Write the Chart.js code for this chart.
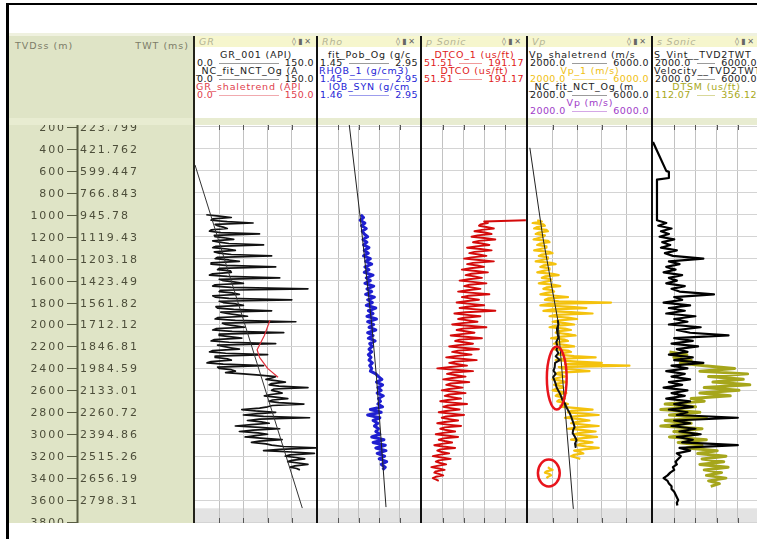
<!DOCTYPE html>
<html><head><meta charset="utf-8">
<script src="https://cdn.jsdelivr.net/npm/chart.js@4.4.0/dist/chart.umd.min.js"></script>
<style>
html,body{margin:0;padding:0}
body{width:757px;height:539px;overflow:hidden;background:#fff;position:relative;font-family:"DejaVu Sans",sans-serif}
.a{position:absolute}
.frame{left:6px;top:3px;width:760px;height:540px;border-left:3px solid #000;border-top:2px solid #000;box-sizing:border-box}
.topband{left:9px;top:33px;width:750px;height:3px;background:#eff1df}
.hdr{top:36px;height:82px;background:#fff;overflow:hidden}
.ttl{height:11px;background:#f6f6cd;font:italic 9.5px "DejaVu Sans",sans-serif;letter-spacing:0.8px;color:#b4b494;padding-left:4px;line-height:11px;position:relative;white-space:nowrap}
.ttl .ic{position:absolute;right:3px;top:0;font-style:normal;color:#666;font-size:8px;letter-spacing:2px}
.lgw{margin-top:4px}
.lg{font:9.5px "DejaVu Sans",sans-serif;letter-spacing:0.8px;line-height:8px;height:8px;white-space:nowrap;overflow-x:clip;overflow-y:visible;padding-left:1px}
.c{display:flex;justify-content:center}
.rg{display:flex;justify-content:space-between;align-items:center;padding:0 2px 0 2px;letter-spacing:0.4px}
.rg i{flex:1;height:1px;background:currentColor;margin:0 6px;opacity:.45}
.strip{left:9px;top:118px;width:750px;height:7px;background:#e8ecd1}
.sep{top:36px;height:487px;width:2px;background:#111}
.dhdr{left:9px;top:36px;width:184px;height:82px;background:#dfe4c6;color:#7c7c68;font:9.5px "DejaVu Sans",sans-serif;letter-spacing:1px}
canvas{position:absolute;top:125px}
</style></head><body>
<div class="a frame"></div>
<div class="a topband"></div>

<div class="a dhdr"><span class="a" style="left:6px;top:4px">TVDss (m)</span><span class="a" style="right:4px;top:4px">TWT (ms)</span></div>

<div class="a hdr" style="left:195px;width:121px">
  <div class="ttl">GR<span class="ic">◊▮✕</span></div>
  <div class="lgw">
    <div class="lg c" style="color:#222">GR_001 (API)</div>
    <div class="lg rg" style="color:#222"><span>0.0</span><i></i><span>150.0</span></div>
    <div class="lg" style="color:#222">_NC_fit_NCT_Og (A</div>
    <div class="lg rg" style="color:#222"><span>0.0</span><i></i><span>150.0</span></div>
    <div class="lg" style="color:#e0404c">GR_shaletrend (API</div>
    <div class="lg rg" style="color:#e0404c"><span>0.0</span><i></i><span>150.0</span></div>
  </div>
</div>
<div class="a hdr" style="left:318px;width:102px">
  <div class="ttl">Rho<span class="ic">◊▮✕</span></div>
  <div class="lgw">
    <div class="lg c" style="color:#222">fit_Pob_Og (g/c</div>
    <div class="lg rg" style="color:#222"><span>1.45</span><i></i><span>2.95</span></div>
    <div class="lg" style="color:#2626d6">RHOB_1 (g/cm3)</div>
    <div class="lg rg" style="color:#2626d6"><span>1.45</span><i></i><span>2.95</span></div>
    <div class="lg c" style="color:#2626d6">IOB_SYN (g/cm</div>
    <div class="lg rg" style="color:#2626d6"><span>1.46</span><i></i><span>2.95</span></div>
  </div>
</div>
<div class="a hdr" style="left:422px;width:104px">
  <div class="ttl">p Sonic<span class="ic">◊▮✕</span></div>
  <div class="lgw">
    <div class="lg c" style="color:#e02020">DTCO_1 (us/ft)</div>
    <div class="lg rg" style="color:#e02020"><span>51.51</span><i></i><span>191.17</span></div>
    <div class="lg c" style="color:#e02020">DTCO (us/ft)</div>
    <div class="lg rg" style="color:#e02020"><span>51.51</span><i></i><span>191.17</span></div>
  </div>
</div>
<div class="a hdr" style="left:528px;width:123px">
  <div class="ttl">Vp<span class="ic">◊▮✕</span></div>
  <div class="lgw">
    <div class="lg" style="color:#222">Vp_shaletrend (m/s</div>
    <div class="lg rg" style="color:#222"><span>2000.0</span><i></i><span>6000.0</span></div>
    <div class="lg c" style="color:#f0c010">Vp_1 (m/s)</div>
    <div class="lg rg" style="color:#f0c010"><span>2000.0</span><i></i><span>6000.0</span></div>
    <div class="lg" style="color:#222">_NC_fit_NCT_Og (m</div>
    <div class="lg rg" style="color:#222"><span>2000.0</span><i></i><span>6000.0</span></div>
    <div class="lg c" style="color:#a03cc8">Vp (m/s)</div>
    <div class="lg rg" style="color:#a03cc8"><span>2000.0</span><i></i><span>6000.0</span></div>
  </div>
</div>
<div class="a hdr" style="left:653px;width:106px">
  <div class="ttl">s Sonic<span class="ic">◊▮✕</span></div>
  <div class="lgw">
    <div class="lg" style="color:#222">S_Vint__TVD2TWT</div>
    <div class="lg rg" style="color:#222"><span>2000.0</span><i></i><span>6000.0</span></div>
    <div class="lg" style="color:#222">Velocity__TVD2TWT</div>
    <div class="lg rg" style="color:#222"><span>2000.0</span><i></i><span>6000.0</span></div>
    <div class="lg c" style="color:#a8a820">DTSM (us/ft)</div>
    <div class="lg rg" style="color:#a8a820"><span>112.07</span><i></i><span>356.12</span></div>
  </div>
</div>

<div class="a strip"></div>

<canvas id="cDepth" width="184" height="398" style="left:9px;width:184px;height:398px"></canvas>
<canvas id="cGR" width="121" height="398" style="left:195px;width:121px;height:398px"></canvas>
<canvas id="cRho" width="102" height="398" style="left:318px;width:102px;height:398px"></canvas>
<canvas id="cPS" width="104" height="398" style="left:422px;width:104px;height:398px"></canvas>
<canvas id="cVp" width="123" height="398" style="left:528px;width:123px;height:398px"></canvas>
<canvas id="cSS" width="106" height="398" style="left:653px;width:106px;height:398px"></canvas>

<div class="a sep" style="left:193px;background:#23231a"></div>
<div class="a sep" style="left:316px"></div>
<div class="a sep" style="left:420px"></div>
<div class="a sep" style="left:526px"></div>
<div class="a sep" style="left:651px"></div>

<script>
// ---------- depth axis ----------
const depthTicks=[200,400,600,800,1000,1200,1400,1600,1800,2000,2200,2400,2600,2800,3000,3200,3400,3600,3800];
const twtLabels=["223.799","421.762","599.447","766.843","945.78","1119.43","1203.18","1423.49","1561.82","1712.12","1846.81","1984.59","2133.01","2260.72","2394.86","2515.26","2656.19","2798.31"];
const DEPTH_MIN=182, DEPTH_MAX=3809, GRAY_BAND_TOP=3675;

// ---------- fine log depth samples (m), 8 per 100 m ----------
const fineDepth=[
1000,1012,1025,1038,1050,1062,1075,1088,
1100,1112,1125,1138,1150,1162,1175,1188,
1200,1212,1225,1238,1250,1262,1275,1288,
1300,1312,1325,1338,1350,1362,1375,1388,
1400,1412,1425,1438,1450,1462,1475,1488,
1500,1512,1525,1538,1550,1562,1575,1588,
1600,1612,1625,1638,1650,1662,1675,1688,
1700,1712,1725,1738,1750,1762,1775,1788,
1800,1812,1825,1838,1850,1862,1875,1888,
1900,1912,1925,1938,1950,1962,1975,1988,
2000,2012,2025,2038,2050,2062,2075,2088,
2100,2112,2125,2138,2150,2162,2175,2188,
2200,2212,2225,2238,2250,2262,2275,2288,
2300,2312,2325,2338,2350,2362,2375,2388,
2400,2412,2425,2438,2450,2462,2475,2488,
2500,2512,2525,2538,2550,2562,2575,2588,
2600,2612,2625,2638,2650,2662,2675,2688,
2700,2712,2725,2738,2750,2762,2775,2788,
2800,2812,2825,2838,2850,2862,2875,2888,
2900,2912,2925,2938,2950,2962,2975,2988,
3000,3012,3025,3038,3050,3062,3075,3088,
3100,3112,3125,3138,3150,3162,3175,3188,
3200,3212,3225,3238,3250,3262,3275,3288,
3300,3312,3325,3338,3350,3362,3375,3388,
3400,3412,3425];

// GR track (API 0-150)
const grValues=[
14,30,45,22,20,40,72,25,
28,35,40,20,18,32,80,24,
25,38,48,22,30,42,85,26,
22,40,50,24,30,45,95,28,
25,42,55,20,20,38,100,30,
28,44,45,22,18,40,105,30,
35,48,60,25,22,45,140,32,
30,46,55,22,25,42,120,30,
35,50,60,26,28,48,95,32,
40,52,65,28,25,50,125,34,
38,50,62,26,22,46,110,30,
30,45,58,24,20,42,100,28,
35,44,55,22,18,38,90,26,
25,40,45,20,15,35,85,28,
30,45,50,38,60,80,100,95,
88,100,112,95,92,104,140,98,
95,102,108,94,86,100,115,96,
92,104,135,96,90,80,58,75,
100,78,60,85,142,80,65,82,
92,70,50,80,105,72,55,78,
90,75,62,85,108,80,70,88,
95,110,150,105,85,120,148,118,
112,125,136,120,115,128,140,124,
118,126,130,null,null,null,null,null,
null,null,null];
const grTrendDepth=[546,3673];
const grTrendValues=[0,133];
const grShaleDepth=[1960,2100,2230,2300,2400,2480];
const grShaleValues=[93,86,77,80,90,103];

// p Sonic track (us/ft 51.51-191.17)
const dtcoValues=[
null,null,null,null,191,135,140,130,
128,138,148,132,122,136,145,126,
118,135,150,128,120,132,142,124,
112,130,145,122,115,128,138,118,
108,128,148,120,112,126,135,116,
105,124,140,118,110,122,132,114,
102,120,138,115,108,118,130,112,
100,120,142,114,105,116,128,110,
98,116,135,112,102,125,150,110,
95,112,130,108,100,114,126,105,
92,114,138,106,98,110,122,104,
90,110,132,102,96,108,120,100,
88,106,128,100,92,104,118,96,
84,104,125,96,88,100,112,90,
72,96,120,92,85,98,110,92,
80,96,115,90,84,94,106,88,
78,94,110,88,82,92,104,86,
76,92,112,86,80,90,102,84,
74,90,108,84,78,88,100,82,
72,86,104,82,76,84,96,80,
70,84,100,80,74,82,92,78,
68,80,96,76,72,78,88,74,
66,78,90,74,70,76,84,72,
64,74,82,70,68,74,80,70,
66,70,74];

// Vp track (m/s 2000-6000)
const vpValues=[
null,null,null,null,2300,2450,2150,2500,
2550,2300,2200,2600,2650,2350,2250,2550,
2500,2350,2180,2650,2700,2400,2300,2600,
2600,2400,2200,2700,2800,2450,2350,2650,
2650,2450,2250,2750,2900,2500,2400,2700,
2700,2500,2300,2800,3000,2550,2450,2750,
2750,2550,2350,2850,3050,2600,2500,2800,
2850,2600,2400,2900,3300,2650,2550,3000,
4700,2700,2400,3300,3900,2800,2500,3400,
4100,2900,2700,3300,3600,3000,2800,3200,
3500,2900,2700,3200,3400,2950,2900,3300,
3550,3000,2750,3200,3300,2950,2850,3250,
3500,3000,2800,3300,3400,3100,3000,3500,
4200,3100,2900,3600,4400,3200,5300,3000,
3100,3500,4000,3000,2900,3100,3200,2950,
2800,3050,3250,2950,2850,3100,3150,2900,
2800,3050,3250,2950,2900,3100,3200,3000,
2950,3150,3300,3050,3100,3600,4100,3400,
3300,3800,4300,3500,3200,3700,4000,3600,
3400,3800,4300,3600,3300,3800,4200,3700,
3500,3900,4250,3700,3400,3800,4100,3700,
3600,3900,4300,3800,3500,3700,3800,3500,
3400,3550,3700,null,null,null,null,null,
2650,2700,2800,2600,2550,2700,2750,2650,
2600,null,null];
const vpTrendDepth=[390,1200,1960,3600,3680];
const vpTrendValues=[2060,2480,2970,3450,3475];
const vpNctDepth=[1960,2000,2040,2080,2120,2160,2200,2233,2260,2290,2324,2350,2388,2420,2450,2479,2510,2540,2570,2600,2630,2661,2690,2720,2752,2780,2810,2843,2870,2900,2934,2960,2990,3020,3053,3085,3117];
const vpNctValues=[2968,2990,2940,2958,2990,2920,2960,2925,2990,2900,3030,2880,2870,2830,2900,2817,2860,2900,2925,2980,3040,3086,3120,3200,3247,3300,3360,3408,3440,3480,3516,3470,3452,3520,3580,3530,3548];
// highlighted zones (red ellipses): centre depth, centre Vp, half-height (m), half-width (m/s)
const ellDepth=[2488,3353];
const ellVp=[2935,2677];
const ellHalfDepth=[287,123];
const ellHalfVp=[322,355];

// ---------- Rho log depth samples (m) ----------
const logDepth=[
1000,1025,1050,1075,1100,1125,1150,1175,1200,1225,1250,1275,
1300,1325,1350,1375,1400,1425,1450,1475,1500,1525,1550,1575,
1600,1625,1650,1675,1700,1725,1750,1775,1800,1825,1850,1875,
1900,1925,1950,1975,2000,2025,2050,2075,2100,2125,2150,2175,
2200,2225,2250,2275,2300,2325,2350,2375,2400,2425,2450,2475,
2500,2525,2550,2575,2600,2625,2650,2675,2700,2725,2750,2775,
2800,2825,2850,2875,2900,2925,2950,2975,3000,3025,3050,3075,
3100,3125,3150,3175,3200,3225,3250,3275,3300,3325];
// Rho track (g/cm3 1.45-2.95)
const rhoValues=[
2.08,2.12,2.07,2.14,2.09,2.16,2.10,2.13,2.18,2.11,2.17,2.12,
2.20,2.13,2.19,2.12,2.22,2.15,2.24,2.14,2.20,2.13,2.26,2.16,
2.22,2.14,2.27,2.17,2.24,2.15,2.28,2.18,2.25,2.16,2.30,2.19,
2.26,2.17,2.31,2.18,2.27,2.20,2.30,2.18,2.26,2.19,2.29,2.21,
2.25,2.20,2.24,2.19,2.23,2.20,2.25,2.21,2.24,2.22,2.30,2.34,
2.39,2.31,2.40,2.33,2.38,2.32,2.41,2.34,2.37,2.33,2.40,2.22,
2.38,2.18,2.36,2.26,2.33,2.28,2.34,2.30,2.36,2.24,2.42,2.26,
2.44,2.30,2.45,2.32,2.43,2.35,2.46,2.38,2.44,2.40];
const rhoTrendDepth=[182,1020,2000,2480,3664];
const rhoTrendValues=[1.91,2.07,2.24,2.31,2.45];

// s Sonic track: Velocity (m/s 2000-6000) and DTSM (us/ft 112.07-356.12)
const velDepth=[337,600,610,665,680,1050,
1075,1100,1125,1150,1175,1200,1225,1250,1275,1300,1325,1350,
1375,1400,1425,1450,1475,1500,1525,1550,1575,1600,1625,1650,
1675,1700,1725,1750,1775,1800,1825,1850,1875,1900,1925,1950,
1975,2000,2025,2050,2075,2100,2125,2150,2175,2200,2225,2250,
2275,2300,2325,2350,2375,2400,2425,2450,2475,2500,2525,2550,
2575,2600,2625,2650,2675,2700,2725,2750,2775,2800,2825,2850,
2875,2900,2925,2950,2975,3000,3025,3050,3075,3100,3125,3150,
3175,3200,3225,3250,3275,3300,3325,3350,3375,3400,3425,3450,
3475,3500,3525,3550,3575,3600,3625,3650];
const velValues=[2000,2500,2600,2600,2150,2150,
2500,2200,2700,2300,2600,2250,2800,2350,2650,2300,2900,2450,
2750,3900,2600,3000,2500,2850,2400,3100,2600,2900,2500,3200,
2700,3000,4300,2800,3100,2400,3400,2600,3200,2500,3600,2800,
3300,2600,3800,2900,3400,4850,2800,3500,2700,3700,2900,3300,
2600,3500,2800,3900,2700,3300,2500,3200,2700,3400,2600,3100,
2400,3300,2700,3200,2500,3400,2800,3500,2600,3300,2900,5200,
2800,3400,2700,3600,3000,3800,2900,3500,3100,5200,3000,3400,
2900,3050,2950,2850,2900,2750,2800,2650,2550,2400,2550,2600,
2700,2700,2800,2850,2900,2950,2900,2920];
const dtsmDepth=[2250,2275,2300,2325,2350,2375,2400,2425,2450,2475,
2500,2525,2550,2575,2600,2625,2650,2675,2700,2725,
2750,2775,2800,2825,2850,2875,2900,2925,2950,2975,
3000,3025,3050,3075,3100,3125,3150,3175,3200,3225,
3250,3275,3300,3325,3350,3375,3400,3425,3450,3475];
const dtsmValues=[150,190,160,200,175,230,300,220,330,240,
320,250,335,230,310,220,290,200,230,140,
210,130,220,150,235,140,200,130,225,160,
215,150,235,170,225,190,260,215,280,225,
275,220,285,230,270,235,280,240,265,245];

// ---------- helpers ----------
const pts=(ds,vs)=>ds.map((d,i)=>({x:vs[i],y:d}));
function line(ds,vs,color,w){return {data:pts(ds,vs),borderColor:color,borderWidth:w,showLine:true,pointRadius:0,spanGaps:false,fill:false,tension:0,borderJoinStyle:'round'};}

const bgPlugin={id:'bg',beforeDraw(c){const {ctx,chartArea:a,scales:{y}}=c;ctx.save();ctx.fillStyle='#fff';ctx.fillRect(a.left,a.top,a.width,a.height);
  const t=y.getPixelForValue(GRAY_BAND_TOP);ctx.fillStyle='#e3e3e3';ctx.fillRect(a.left,t,a.width,a.bottom-t);ctx.restore();}};
const edgeTicks={id:'edgeTicks',afterDatasetsDraw(c){const {ctx,chartArea:a,scales:{x}}=c;ctx.save();ctx.strokeStyle='#555';ctx.lineWidth=1;
  x.ticks.forEach(t=>{const px=Math.round(x.getPixelForValue(t.value))+0.5;ctx.beginPath();ctx.moveTo(px,a.top);ctx.lineTo(px,a.top+5);ctx.moveTo(px,a.bottom-5);ctx.lineTo(px,a.bottom);ctx.stroke();});ctx.restore();}};

function track(id,xmin,xmax,datasets,extra,extraScales){
  const scales={
    x:{type:'linear',min:xmin,max:xmax,
      afterFit:s=>{s.height=0;},
      afterBuildTicks:s=>{const st=(xmax-xmin)/5;s.ticks=[1,2,3,4].map(k=>({value:xmin+k*st}));},
      ticks:{display:false},grid:{color:'#c2c2c2',drawTicks:false,lineWidth:1},border:{display:false}},
    y:{type:'linear',reverse:true,min:DEPTH_MIN,max:DEPTH_MAX,
      afterFit:s=>{s.width=0;},
      afterBuildTicks:s=>{s.ticks=depthTicks.map(v=>({value:v}));},
      ticks:{display:false},grid:{color:'#d4d4d4',drawTicks:false,lineWidth:1},border:{display:false}}
  };
  Object.assign(scales,extraScales||{});
  return new Chart(document.getElementById(id),{type:'scatter',data:{datasets},
    options:{responsive:false,animation:false,devicePixelRatio:1,layout:{padding:0},
      plugins:{legend:{display:false},tooltip:{enabled:false}},scales},
    plugins:[bgPlugin,edgeTicks].concat(extra||[])});
}

// ---------- depth track ----------
const depthAxisPlugin={id:'depthAxis',
  beforeDraw(c){const ctx=c.ctx;ctx.save();ctx.fillStyle='#dfe4c6';ctx.fillRect(0,0,c.width,c.height);ctx.restore();},
  afterDraw(c){const {ctx,chartArea:a,scales:{y}}=c;ctx.save();
    ctx.strokeStyle='#595d43';ctx.lineWidth=2;ctx.beginPath();ctx.moveTo(a.left+68.5,a.top);ctx.lineTo(a.left+68.5,a.bottom);ctx.stroke();
    ctx.font='11px "DejaVu Sans"';ctx.letterSpacing='1.9px';ctx.fillStyle='#4d4e3a';ctx.textBaseline='middle';ctx.lineWidth=1;
    depthTicks.forEach((d,i)=>{const py=Math.round(y.getPixelForValue(d))+0.5;
      ctx.beginPath();ctx.moveTo(a.left+58,py);ctx.lineTo(a.left+69,py);ctx.stroke();
      ctx.textAlign='right';ctx.fillText(String(d),a.left+57,py+0.5);
      if(twtLabels[i]){ctx.textAlign='left';ctx.fillText(twtLabels[i],a.left+71,py+0.5);}
    });ctx.restore();}};
new Chart(document.getElementById('cDepth'),{type:'scatter',data:{datasets:[]},
  options:{responsive:false,animation:false,devicePixelRatio:1,layout:{padding:0},
    plugins:{legend:{display:false},tooltip:{enabled:false}},
    scales:{x:{display:false,min:0,max:1},y:{display:false,reverse:true,min:DEPTH_MIN,max:DEPTH_MAX}}},
  plugins:[depthAxisPlugin]});

// ---------- log tracks ----------
track('cGR',0,150,[
  line(grShaleDepth,grShaleValues,'#e0303c',1.2),
  line(grTrendDepth,grTrendValues,'#333',1),
  line(fineDepth,grValues,'#111',1.7)
]);
track('cRho',1.45,2.95,[
  line(rhoTrendDepth,rhoTrendValues,'#222',1),
  line(logDepth,rhoValues,'#1f1fd0',3)
]);
track('cPS',51.51,191.17,[
  line(fineDepth,dtcoValues,'#d40a0a',1.9)
]);
const ellipsePlugin={id:'ellipses',afterDatasetsDraw(c){const {ctx,scales:{x,y}}=c;ctx.save();ctx.strokeStyle='#e8141c';ctx.lineWidth=2.5;
  ellDepth.forEach((d,i)=>{const cx=x.getPixelForValue(ellVp[i]),cy=y.getPixelForValue(d);
    const rx=Math.abs(x.getPixelForValue(ellVp[i]+ellHalfVp[i])-cx),ry=Math.abs(y.getPixelForValue(d+ellHalfDepth[i])-cy);
    ctx.beginPath();ctx.ellipse(cx,cy,rx,ry,0,0,Math.PI*2);ctx.stroke();});ctx.restore();}};
track('cVp',2000,6000,[
  line(vpNctDepth,vpNctValues,'#111',2),
  line(vpTrendDepth,vpTrendValues,'#222',1),
  line(fineDepth,vpValues,'#f4c20d',2.2)
],[ellipsePlugin]);
track('cSS',2000,6000,[
  line(velDepth,velValues,'#000',2.2),
  {...line(dtsmDepth,dtsmValues,'#a6a61c',3),xAxisID:'x2'}
],[],{x2:{type:'linear',min:112.07,max:356.12,display:false}});
</script>
</body></html>
